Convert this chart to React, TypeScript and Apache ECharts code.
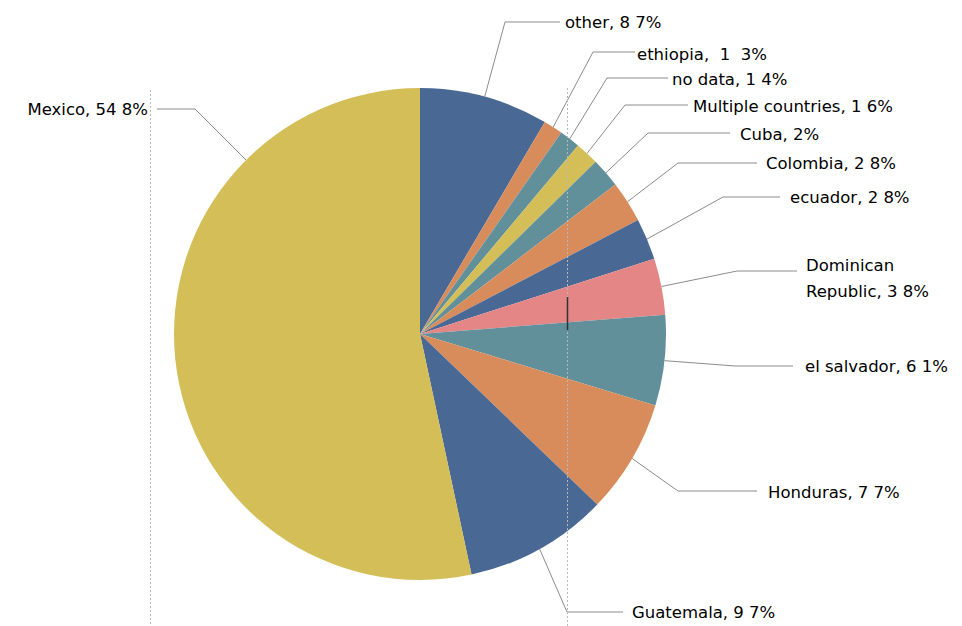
import React, { useEffect, useRef } from "react";
import * as echarts from "echarts";

const names = ["other", "ethiopia", "no data", "Multiple countries", "Cuba", "Colombia", "ecuador", "Dominican\nRepublic", "el salvador", "Honduras", "Guatemala", "Mexico"];
const values = [8.7, 1.3, 1.4, 1.6, 2, 2.8, 2.8, 3.8, 6.1, 7.7, 9.7, 54.8];
const pctTexts = ["8 7%", " 1  3%", "1 4%", "1 6%", "2%", "2 8%", "2 8%", "3 8%", "6 1%", "7 7%", "9 7%", "54 8%"];
const colors = ["#4A6894", "#D98C5B", "#62909A", "#D4BE57", "#62909A", "#D98C5B", "#4A6894", "#E48686", "#62909A", "#D98C5B", "#4A6894", "#D4BE57"];

// label layout (style only): label x, label y, line y, elbow x, line end x, align, optional line start angle (deg)
const layoutSpec: any[] = [
  { x: 565, y: 22, ly: 22, ex: 505, hx: 560, align: "left" },
  { x: 637, y: 54, ly: 52, ex: 593, hx: 635, align: "left" },
  { x: 672, y: 79, ly: 78, ex: 607, hx: 668, align: "left" },
  { x: 693, y: 106, ly: 105, ex: 625, hx: 688, align: "left" },
  { x: 740, y: 134, ly: 133, ex: 648, hx: 730, align: "left" },
  { x: 766, y: 163, ly: 163, ex: 678, hx: 757, align: "left" },
  { x: 790, y: 197, ly: 197, ex: 723, hx: 780, align: "left" },
  { x: 806, y: 278, ly: 271, ex: 737, hx: 797, align: "left" },
  { x: 805, y: 366, ly: 366, ex: 735, hx: 793, align: "left" },
  { x: 768, y: 492, ly: 491, ex: 678, hx: 757, align: "left" },
  { x: 632, y: 612, ly: 612, ex: 567, hx: 623, align: "left" },
  { x: 148, y: 109, ly: 109, ex: 195, hx: 157, align: "right", sa: 315 },
];

const CX = 420;
const CY = 334;
const R = 246;

export default function App() {
  const ref = useRef<HTMLDivElement>(null);
  useEffect(() => {
    document.body.style.margin = "0";
    if (!ref.current) return;
    const chart = echarts.init(ref.current, undefined, { renderer: "svg" });
    const total = values.reduce((a, b) => a + b, 0);
    const mids: number[] = [];
    let acc = 0;
    values.forEach((v) => {
      mids.push(((acc + v / 2) / total) * Math.PI * 2);
      acc += v;
    });
    chart.setOption({
      animation: false,
      backgroundColor: "#ffffff",
      graphic: [
        { type: "line", shape: { x1: 150.5, y1: 90, x2: 150.5, y2: 626 }, style: { stroke: "#b8b8b8", lineWidth: 1, lineDash: [2, 2] }, z: 0 },
        { type: "line", shape: { x1: 567.5, y1: 88, x2: 567.5, y2: 626 }, style: { stroke: "#b8b8b8", lineWidth: 1, lineDash: [2, 2] }, z: 100 },
        { type: "line", shape: { x1: 567.5, y1: 297, x2: 567.5, y2: 330 }, style: { stroke: "#333333", lineWidth: 1.5 }, z: 101 },
      ],
      series: [
        {
          type: "pie",
          center: [CX, CY],
          radius: R,
          startAngle: 90,
          clockwise: true,
          avoidLabelOverlap: false,
          itemStyle: { borderWidth: 0 },
          label: {
            show: true,
            color: "#000000",
            fontFamily: "DejaVu Sans",
            fontSize: 16.5,
            lineHeight: 26,
            formatter: (p: any) => `${names[p.dataIndex]}, ${pctTexts[p.dataIndex]}`,
          },
          labelLine: { show: true, lineStyle: { color: "#8c8c8c", width: 1 } },
          labelLayout: (params: any) => {
            const i = params.dataIndex;
            const s = layoutSpec[i];
            const a = s.sa !== undefined ? (s.sa * Math.PI) / 180 : mids[i];
            const sx = CX + R * Math.sin(a);
            const sy = CY - R * Math.cos(a);
            return {
              x: s.x,
              y: s.y,
              align: s.align,
              verticalAlign: "middle",
              labelLinePoints: [
                [sx, sy],
                [s.ex, s.ly],
                [s.hx, s.ly],
              ],
            };
          },
          emphasis: { disabled: true },
          data: values.map((v, i) => ({ name: names[i], value: v, itemStyle: { color: colors[i] } })),
        },
      ],
    });
    return () => chart.dispose();
  }, []);
  return <div ref={ref} style={{ width: 962, height: 626 }} />;
}
